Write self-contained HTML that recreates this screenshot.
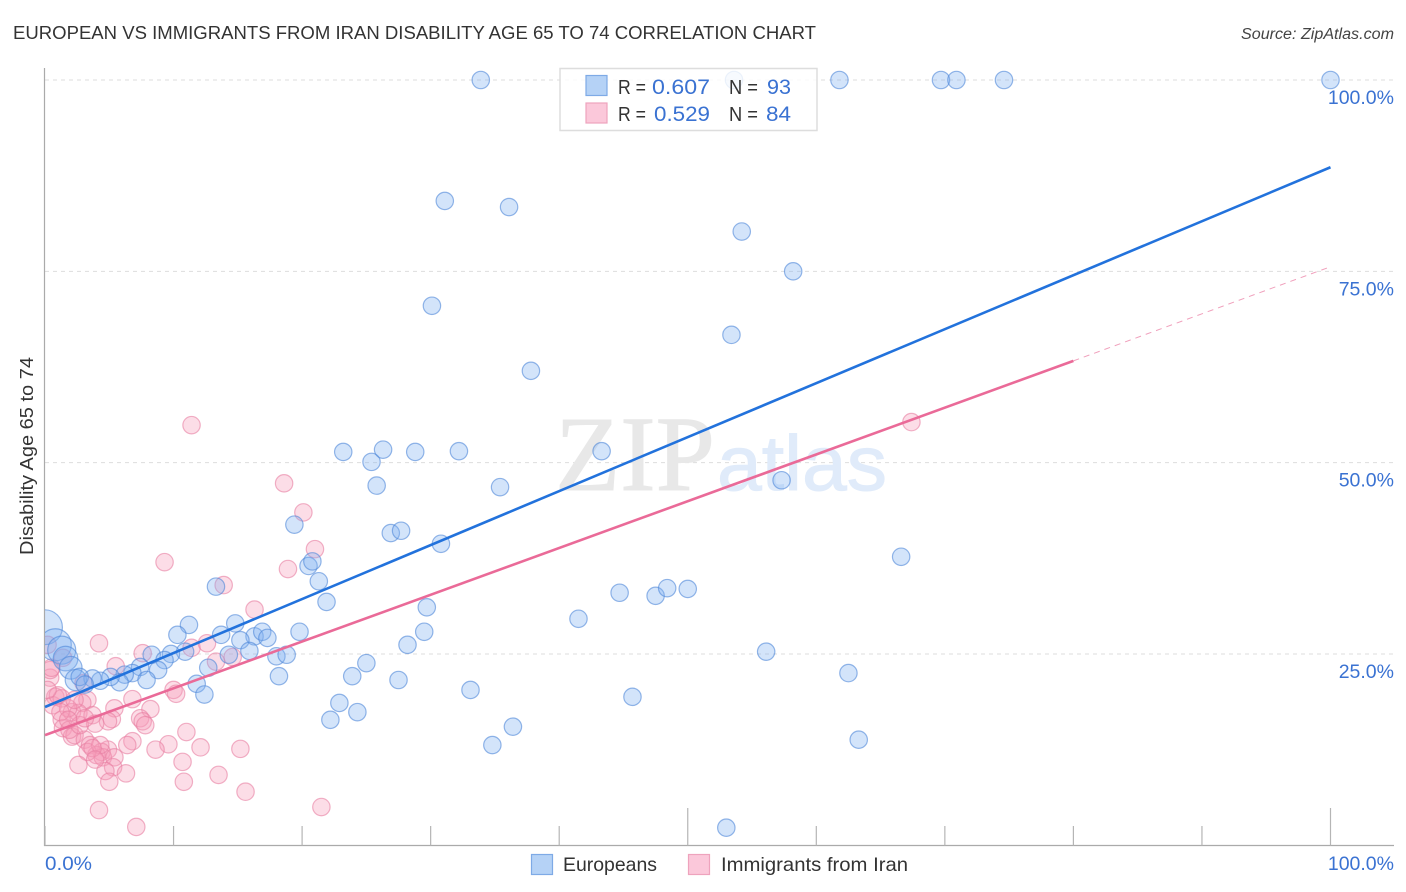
<!DOCTYPE html>
<html lang="en">
<head>
<meta charset="utf-8">
<title>European vs Immigrants from Iran Disability Age 65 to 74 Correlation Chart</title>
<style>
html,body{margin:0;padding:0;background:#fff;}
svg{display:block;font-family:"Liberation Sans",sans-serif;}
</style>
</head>
<body>
<svg id="chart" xmlns="http://www.w3.org/2000/svg" width="1406" height="892" viewBox="0 0 1406 892">
  <defs>
    <clipPath id="plot-clip"><rect x="45" y="60" width="1349" height="785"></rect></clipPath>
  </defs>
  <rect x="0" y="0" width="1406" height="892" fill="#ffffff"></rect>
  <text x="13" y="39" font-size="18" fill="#333333" textLength="803" lengthAdjust="spacingAndGlyphs">EUROPEAN VS IMMIGRANTS FROM IRAN DISABILITY AGE 65 TO 74 CORRELATION CHART</text>
  <text x="1394" y="39" font-size="15.500" font-style="italic" fill="#444444" text-anchor="end" textLength="153" lengthAdjust="spacingAndGlyphs">Source: ZipAtlas.com</text>
  <g id="grid"></g>
  <g>
    <text x="555" y="490" font-family="'Liberation Serif',serif" font-size="107" fill="#e8e8e8" stroke="#e8e8e8" stroke-width="1" textLength="160" lengthAdjust="spacingAndGlyphs">ZIP</text>
    <text x="717" y="490" font-size="78" fill="#e0ebfa" stroke="#e0ebfa" stroke-width="1" textLength="170" lengthAdjust="spacingAndGlyphs">atlas</text>
  </g>
  <g id="axes"></g>
  <g id="points-pink" clip-path="url(#plot-clip)"></g>
  <g id="points-blue" clip-path="url(#plot-clip)"></g>
  <g id="trends"></g>
  <g>
    <rect x="560" y="68.500" width="257" height="62" fill="#ffffff" fill-opacity="0.82" stroke="#dddddd" stroke-width="1.500"></rect>
    <rect x="586" y="75.500" width="21" height="20" fill="#b5d2f6" stroke="#7eaae6" stroke-width="1.200"></rect>
    <rect x="586" y="103" width="21" height="20" fill="#fbc8da" stroke="#eea3bd" stroke-width="1.200"></rect>
    <text x="618" y="94" font-size="20" fill="#333333" textLength="28" lengthAdjust="spacingAndGlyphs">R =</text>
    <text x="652" y="94" font-size="21.500" fill="#3a72d2" textLength="58" lengthAdjust="spacingAndGlyphs">0.607</text>
    <text x="729" y="94" font-size="20" fill="#333333" textLength="29" lengthAdjust="spacingAndGlyphs">N =</text>
    <text x="767" y="94" font-size="21.500" fill="#3a72d2" textLength="24" lengthAdjust="spacingAndGlyphs">93</text>
    <text x="618" y="121" font-size="20" fill="#333333" textLength="28" lengthAdjust="spacingAndGlyphs">R =</text>
    <text x="654" y="121" font-size="21.500" fill="#3a72d2" textLength="56" lengthAdjust="spacingAndGlyphs">0.529</text>
    <text x="729" y="121" font-size="20" fill="#333333" textLength="29" lengthAdjust="spacingAndGlyphs">N =</text>
    <text x="766" y="121" font-size="21.500" fill="#3a72d2" textLength="25" lengthAdjust="spacingAndGlyphs">84</text>
  </g>
  <g>
    <rect x="531.500" y="854.500" width="21" height="20" fill="#b5d2f6" stroke="#7eaae6" stroke-width="1.200"></rect>
    <text x="563" y="871" font-size="19.500" fill="#333333" textLength="94" lengthAdjust="spacingAndGlyphs">Europeans</text>
    <rect x="688.500" y="854.500" width="21" height="20" fill="#fbc8da" stroke="#eea3bd" stroke-width="1.200"></rect>
    <text x="721" y="871" font-size="19.500" fill="#333333" textLength="187" lengthAdjust="spacingAndGlyphs">Immigrants from Iran</text>
  </g>
  <text transform="translate(33,456) rotate(-90)" font-size="18" fill="#333333" text-anchor="middle" textLength="198" lengthAdjust="spacingAndGlyphs">Disability Age 65 to 74</text>
</svg>
<script>
const yTickValues = [25, 50, 75, 100];
const yTickLabels = ["25.0%", "50.0%", "75.0%", "100.0%"];
const xTickValues = [0, 10, 20, 30, 40, 50, 60, 70, 80, 90, 100];
const xMajorTicks = [50, 100];
const xEndLabels = ["0.0%", "100.0%"];

const euroX = [0,0.8,1.3,1.6,2.0,2.4,
  33.9,53.6,61.8,69.7,70.9,74.6,100,
  31.1,36.1,54.2,58.2,30.1,53.4,37.8,23.2,25.4,26.3,28.8,32.2,43.3,25.8,35.4,57.3,
  19.4,26.9,27.7,30.8,66.6,20.5,20.8,21.3,13.3,21.9,29.7,44.7,47.5,48.4,50,41.5,
  11.2,14.8,10.3,13.7,19.8,29.5,16.3,16.9,17.3,15.2,28.2,15.9,18,18.8,14.3,10.9,9.8,8.3,56.1,
  25,9.3,12.7,8.8,7.4,23.9,18.2,62.5,27.5,6.8,6.2,7.9,5.8,5.1,4.3,3.7,2.7,3.1,
  11.8,33.1,12.4,45.7,22.9,24.3,22.2,36.4,34.8,63.3,53];
const euroY = [28.5,26.2,25.5,24.4,23.2,21.6,
  100,100,100,100,100,100,100,
  84.2,83.4,80.2,75,70.5,66.7,62,51.4,50.1,51.7,51.4,51.5,51.5,47,46.8,47.7,
  41.9,40.8,41.1,39.4,37.7,36.5,37.1,34.5,33.8,31.8,31.1,33,32.6,33.6,33.5,29.6,
  28.8,29,27.5,27.5,27.9,27.9,27.3,27.9,27.1,26.8,26.2,25.4,24.7,24.9,24.9,25.3,25,24.9,25.3,
  23.8,24.2,23.2,22.9,23.3,22.1,22.1,22.5,21.6,22.5,22.3,21.6,21.3,22,21.5,21.8,22,21,
  21.1,20.3,19.7,19.4,18.6,17.4,16.4,15.5,13.1,13.8,2.3];
const euroWeight = [4,3.4,2.6,2,1.7,1.5];

const iranX = [9.3,13.9,18.9,16.3,4.2,7.6,11.4,12.6,5.5,13.3,14.6,0.2,1.4,0.4,0.4,0.8,0.6,1.3,3.0,3.3,2.9,6.8,5.4,8.2,10.0,10.2,
  1.3,1.4,2.1,2.6,3.7,5.2,4.9,3.9,7.4,7.6,7.8,2.1,2.3,3.1,3.5,6.8,11.0,9.6,8.6,12.1,15.2,4.9,4.4,4.0,4.5,5.4,3.3,2.6,10.7,5.3,4.7,6.3,5.0,10.8,13.5,15.6,4.2,7.1,
  11.4,18.6,20.1,21.0,67.4,21.5,1.8,2.3,1.0,0.2,1.2,1.9,2.7,3.1,4.3,3.7,3.9,0.5,1.8,6.4];
const iranY = [37.0,34.0,36.1,30.8,26.4,25.1,25.8,26.4,23.4,24.0,24.6,26.2,24.5,21.9,22.9,19.4,18.3,19.2,21.2,19.0,18.6,19.1,17.9,17.8,20.3,19.8,
  16.4,15.3,17.4,17.3,17.0,16.5,16.2,15.9,16.6,16.2,15.7,14.2,14.4,13.8,13.1,13.6,14.8,13.2,12.5,12.8,12.6,12.5,12.2,11.8,11.5,11.5,12.2,10.5,10.9,10.2,9.7,9.4,8.3,8.3,9.2,7.0,4.6,2.4,
  54.9,47.3,43.5,38.7,55.3,5.0,17.9,19.0,19.6,20.3,17.4,15.1,15.7,16.6,13.1,12.7,11.2,23.2,16.4,13.1];

const euroTrendX = [0, 100];
const euroTrendY = [18.07, 88.6];
const iranTrendX = [0, 80];
const iranTrendY = [14.4, 63.3];
const iranExtendX = [80, 100];
const iranExtendY = [63.3, 75.6];

const NS = "http://www.w3.org/2000/svg";
function xScale(v) { return 45 + v * 12.855; }
function yScale(v) { return 845.3 - v * 7.653; }
function radius(w) { return 8.7 * Math.sqrt(w); }
function make(tag, attrs, parent) {
  const el = document.createElementNS(NS, tag);
  for (const k in attrs) el.setAttribute(k, attrs[k]);
  parent.appendChild(el);
  return el;
}

const grid = document.getElementById("grid");
yTickValues.forEach(function (v, i) {
  const line = make("line", {x1: 45, x2: 1394, y1: yScale(v), y2: yScale(v), stroke: "#dddddd", "stroke-width": 1, "stroke-dasharray": "4 4"}, grid);
  
  
  const label = make("text", {x: 1394, y: yScale(v) + 24, "font-size": 19.5, fill: "#3a72d2", "text-anchor": "end"}, grid);
  label.textContent = yTickLabels[i];
  
  
});

const axes = document.getElementById("axes");
const yAxis = make("line", {x1: 44.5, x2: 44.5, y1: 68, y2: 846, stroke: "#aaaaaa", "stroke-width": 1.2}, axes);


const xAxis = make("line", {x1: 44, x2: 1394, y1: 845.5, y2: 845.5, stroke: "#aaaaaa", "stroke-width": 1.2}, axes);


xTickValues.forEach(function (v) {
  const top = xMajorTicks.indexOf(v) >= 0 ? 808 : 826;
  const tick = make("line", {x1: xScale(v), x2: xScale(v), y1: top, y2: 845.5, stroke: "#b5b5b5", "stroke-width": 1.2}, axes);
  
  
});
const xLabelLeft = make("text", {x: xScale(0), y: 870, "font-size": 19.5, fill: "#3a72d2", textLength: 47, lengthAdjust: "spacingAndGlyphs"}, axes);
xLabelLeft.textContent = xEndLabels[0];


const xLabelRight = make("text", {x: 1394, y: 870, "font-size": 19.5, fill: "#3a72d2", "text-anchor": "end"}, axes);
xLabelRight.textContent = xEndLabels[1];



const pinkLayer = document.getElementById("points-pink");
iranX.forEach(function (x, i) {
  const c = make("circle", {cx: xScale(x), cy: yScale(iranY[i]), r: radius(1), fill: "#f79ab8", "fill-opacity": 0.34, stroke: "#e87fa2", "stroke-opacity": 0.6, "stroke-width": 1.2}, pinkLayer);
  
  
});

const blueLayer = document.getElementById("points-blue");
euroX.forEach(function (x, i) {
  const w = i < euroWeight.length ? euroWeight[i] : 1;
  const c = make("circle", {cx: xScale(x), cy: yScale(euroY[i]), r: radius(w), fill: "#7fb0f0", "fill-opacity": 0.34, stroke: "#4f87d8", "stroke-opacity": 0.6, "stroke-width": 1.2}, blueLayer);
  
  
});

const trends = document.getElementById("trends");
const blueTrend = make("line", {x1: xScale(euroTrendX[0]), y1: yScale(euroTrendY[0]), x2: xScale(euroTrendX[1]), y2: yScale(euroTrendY[1]), stroke: "#2272dc", "stroke-width": 2.6}, trends);


const pinkTrend = make("line", {x1: xScale(iranTrendX[0]), y1: yScale(iranTrendY[0]), x2: xScale(iranTrendX[1]), y2: yScale(iranTrendY[1]), stroke: "#ea6a98", "stroke-width": 2.6}, trends);


const pinkExtend = make("line", {x1: xScale(iranExtendX[0]), y1: yScale(iranExtendY[0]), x2: xScale(iranExtendX[1]), y2: yScale(iranExtendY[1]), stroke: "#f0a0bc", "stroke-width": 1, "stroke-dasharray": "6 5"}, trends);


</script>
</body>
</html>
